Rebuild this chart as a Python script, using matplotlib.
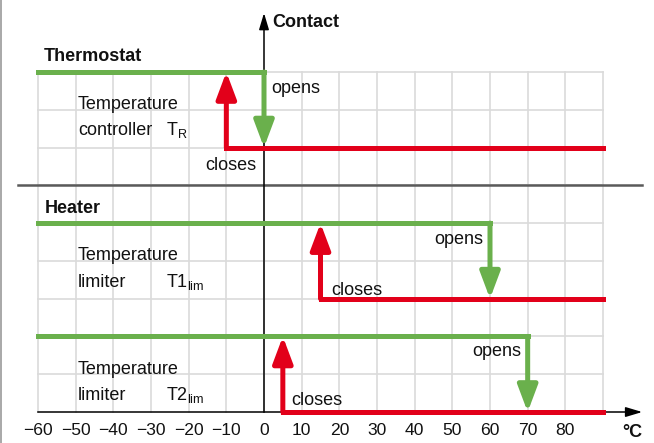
import matplotlib
matplotlib.use("Agg")
import matplotlib.pyplot as plt
from matplotlib.lines import Line2D

plt.rcParams["font.family"] = ["Liberation Sans", "DejaVu Sans"]
plt.rcParams["mathtext.fontset"] = "custom"
plt.rcParams["mathtext.rm"] = "Liberation Sans"

# ---- data ----
tick_temps = [-60, -50, -40, -30, -20, -10, 0, 10, 20, 30, 40, 50, 60, 70, 80]
tick_labels = ["\u221260", "\u221250", "\u221240", "\u221230", "\u221220", "\u221210",
               "0", "10", "20", "30", "40", "50", "60", "70", "80"]
grid_x = [-60, -50, -40, -30, -20, -10, 0, 10, 20, 30, 40, 50, 60, 70, 80, 90]
grid_y = [1, 2, 3, 4, 5, 6, 7, 8, 9]

# thermostat T_R, limiter T1, limiter T2
open_temp = [0, 60, 70]       # contact opens (green arrow down)
close_temp = [-10, 15, 5]     # contact closes (red arrow up)
upper_level = [9, 5, 2]
lower_level = [7, 3, 0]
t_min, t_max = -60, 90

GREEN = "#6ab04c"
RED = "#e2001a"
GRID = "#dadada"
FS = 13

fig = plt.figure(figsize=(6.54, 4.43), dpi=100)
ax = fig.add_axes([0, 0, 1, 1])
ax.set_xlim(-70.09, 103.54)
ax.set_ylim(-0.82, 10.905)
ax.patch.set_alpha(0)

# grid
for gx in grid_x:
    ax.plot([gx, gx], [0, 9], color=GRID, lw=1.2, zorder=1)
for gy in grid_y:
    ax.plot([t_min, t_max], [gy, gy], color=GRID, lw=1.2, zorder=1)

# separator between thermostat and heater
ax.plot([-65.3, 100.4], [6, 6], color="#5a5a5a", lw=1.8, zorder=2)

# axes as spines
for s in ["top", "right"]:
    ax.spines[s].set_visible(False)
ax.spines["left"].set_position(("data", 0))
ax.spines["bottom"].set_position(("data", 0))
ax.spines["left"].set_bounds(0, 10.3)
ax.spines["bottom"].set_bounds(-60, 99)
ax.spines["left"].set_linewidth(1.1)
ax.spines["bottom"].set_linewidth(1.1)
ax.spines["left"].set_zorder(3)
ax.spines["bottom"].set_zorder(3)
ax.set_yticks([])
ax.set_xticks(tick_temps, tick_labels)
ax.tick_params(axis="x", length=0, pad=8, labelsize=12.6, colors="#111111")

arrow_axis = dict(arrowstyle="-|>,head_length=1.0,head_width=0.3", color="black",
                  lw=1.1, shrinkA=0, shrinkB=0, mutation_scale=10)
ax.annotate("", xy=(100.4, 0), xytext=(97, 0), arrowprops=arrow_axis, zorder=3)
ax.annotate("", xy=(0, 10.56), xytext=(0, 10.2), arrowprops=arrow_axis, zorder=3)

# switching curves
head = "-|>,head_length=0.8,head_width=0.3"
for o, c, up, lo in zip(open_temp, close_temp, upper_level, lower_level):
    ax.plot([t_min, o], [up, up], color=GREEN, lw=3.6, solid_capstyle="projecting", zorder=4)
    ax.annotate("", xy=(o, lo), xytext=(o, up),
                arrowprops=dict(arrowstyle=head, color=GREEN, lw=3.6,
                                shrinkA=0, shrinkB=0, mutation_scale=20), zorder=5)
    ax.plot([c, t_max], [lo, lo], color=RED, lw=3.6, solid_capstyle="projecting", zorder=4)
    ax.annotate("", xy=(c, up), xytext=(c, lo),
                arrowprops=dict(arrowstyle=head, color=RED, lw=3.6,
                                shrinkA=0, shrinkB=0, mutation_scale=20), zorder=5)

# texts
txt = dict(fontsize=FS, color="#111111", va="baseline")
ax.text(2.1, 10.19, "Contact", fontweight="bold", **txt)
ax.text(-58.4, 9.29, "Thermostat", fontweight="bold", **txt)
ax.text(-58.1, 5.27, "Heater", fontweight="bold", **txt)
ax.text(95.0, -0.67, "°C", fontweight="bold", **txt)

ax.text(-49.4, 8.01, "Temperature", **txt)
ax.text(-49.4, 7.33, "controller", **txt)
ax.text(-26.0, 7.33, r"T$_\mathrm{R}$", **txt)
ax.text(-49.4, 4.02, "Temperature", **txt)
ax.text(-49.4, 3.32, "limiter", **txt)
ax.text(-26.0, 3.32, r"T1$_\mathrm{lim}$", **txt)
ax.text(-49.4, 1.00, "Temperature", **txt)
ax.text(-49.4, 0.32, "limiter", **txt)
ax.text(-26.0, 0.32, r"T2$_\mathrm{lim}$", **txt)

ax.text(1.9, 8.45, "opens", ha="left", **txt)
ax.text(-2.1, 6.41, "closes", ha="right", **txt)
ax.text(58.1, 4.44, "opens", ha="right", **txt)
ax.text(17.8, 3.10, "closes", ha="left", **txt)
ax.text(68.2, 1.48, "opens", ha="right", **txt)
ax.text(7.2, 0.19, "closes", ha="left", **txt)

# left frame line
fig.add_artist(Line2D([0.002, 0.002], [0, 1], transform=fig.transFigure, color="#999999", lw=1.2))

fig.savefig("out.png", dpi=100)
